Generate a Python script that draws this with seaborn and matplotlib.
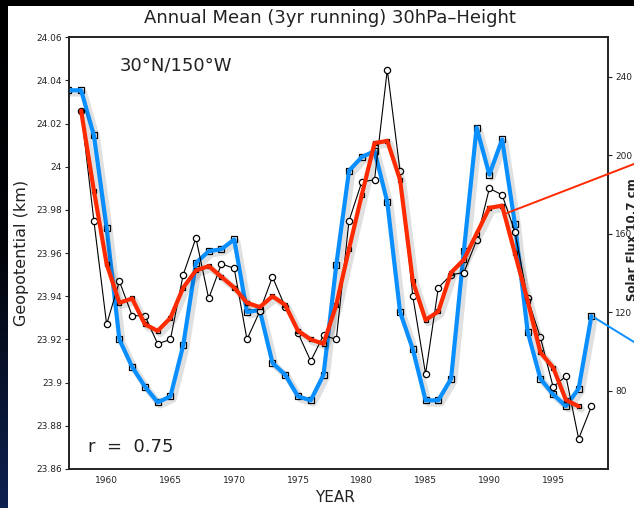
import numpy as np
import pandas as pd
import matplotlib
matplotlib.use("Agg")
import matplotlib.pyplot as plt
import matplotlib.patheffects as pe
from matplotlib.patches import Rectangle
from matplotlib.lines import Line2D
from matplotlib.colors import LinearSegmentedColormap
import seaborn as sns

# ---------------- data ----------------
geo_years = list(range(1958, 1999))
geo_annual = [24.026, 23.975, 23.927, 23.947, 23.931, 23.931, 23.918, 23.920, 23.950, 23.967,
              23.939, 23.955, 23.953, 23.920, 23.933, 23.949, 23.935, 23.923, 23.910, 23.922,
              23.920, 23.975, 23.993, 23.994, 24.045, 23.998, 23.940, 23.904, 23.944, 23.950,
              23.951, 23.966, 23.990, 23.987, 23.970, 23.939, 23.921, 23.898, 23.903, 23.874,
              23.889]

run_years = list(range(1958, 1998))
geo_running = [24.026, 23.989, 23.955, 23.937, 23.939, 23.927, 23.924, 23.930, 23.944, 23.952,
               23.954, 23.949, 23.944, 23.937, 23.935, 23.940, 23.936, 23.924, 23.920, 23.918,
               23.936, 23.962, 23.987, 24.011, 24.012, 23.994, 23.947, 23.929, 23.933, 23.951,
               23.957, 23.969, 23.981, 23.982, 23.960, 23.938, 23.914, 23.907, 23.892, 23.889]

flux_years = list(range(1957, 1999))
solar_flux = [233, 233, 210, 163, 106, 92, 82, 74, 77, 103,
              145, 151, 152, 157, 120, 121, 94, 88, 77, 75,
              88, 144, 192, 199, 202, 176, 120, 101, 75, 75,
              86, 151, 214, 190, 208, 165, 110, 86, 78, 72,
              81, 118]

geo_ticks = [23.86, 23.88, 23.90, 23.92, 23.94, 23.96, 23.98, 24.00, 24.02, 24.04, 24.06]
flux_ticks = [80, 120, 160, 200, 240]
year_ticks = [1960, 1965, 1970, 1975, 1980, 1985, 1990, 1995]

title = "Annual Mean (3yr running) 30hPa\u2013Height"
location = "30\u00b0N/150\u00b0W"
corr_text = "r  =  0.75"

df_annual = pd.DataFrame({"year": geo_years, "value": geo_annual})
df_run = pd.DataFrame({"year": run_years, "value": geo_running})
df_flux = pd.DataFrame({"year": flux_years, "value": solar_flux})

# ---------------- figure ----------------
sns.set_style("white")
plt.rcParams["font.family"] = ["DejaVu Sans"]

W, H = 634, 508
fig = plt.figure(figsize=(W / 100, H / 100), dpi=100, facecolor="black")

# left dark strip (slide background)
gax = fig.add_axes([0, 0, 7 / W, 1])
gax.imshow(np.linspace(0, 1, 200).reshape(-1, 1), aspect="auto",
           cmap=LinearSegmentedColormap.from_list("bg", ["#000000", "#020409", "#0e2150"]))
gax.axis("off")

fig.patches.append(Rectangle((7 / W, 0), 1 - 7 / W, 1 - 6 / H, transform=fig.transFigure,
                             facecolor="white", edgecolor="none", zorder=-10))

ax = fig.add_axes([69 / W, 1 - 469 / H, (608 - 69) / W, (469 - 37.3) / H])
ax.set_facecolor("white")
ax2 = ax.twinx()
ax.set_zorder(2)
ax.patch.set_visible(False)
ax2.set_zorder(1)

shadow = [pe.SimpleLineShadow(offset=(2, -2), shadow_color="black", alpha=0.12, linewidth=5),
          pe.Normal()]

# solar flux: black squares underneath + thick blue overlay
sns.lineplot(data=df_flux, x="year", y="value", ax=ax2, color="black", linewidth=0.8,
             marker="s", markersize=4.5, markerfacecolor="white", markeredgecolor="black",
             markeredgewidth=0.9, zorder=2)
sns.lineplot(data=df_flux, x="year", y="value", ax=ax2, color="#0a8fff", linewidth=3.0,
             zorder=3, path_effects=shadow)

# geopotential annual (open circles)
sns.lineplot(data=df_annual, x="year", y="value", ax=ax, color="black", linewidth=0.8,
             marker="o", markersize=4.5, markerfacecolor="white", markeredgecolor="black",
             markeredgewidth=0.9, zorder=3)
# 3yr running mean: thin black with small squares + thick red overlay
sns.lineplot(data=df_run, x="year", y="value", ax=ax, color="black", linewidth=0.8,
             marker="s", markersize=3.5, markerfacecolor="white", markeredgecolor="black",
             markeredgewidth=0.9, zorder=3)
sns.lineplot(data=df_run, x="year", y="value", ax=ax, color="#ff2a00", linewidth=3.0,
             zorder=4, path_effects=shadow)

ax.set_xlim(1957.05, 1999.3)
ax.set_ylim(23.86, 24.06)
ax2.set_ylim(40, 260)

ax.set_yticks(geo_ticks)
ax.set_yticklabels([f"{round(v, 2):g}" for v in geo_ticks])
ax.set_xticks(year_ticks)
ax.set_xticklabels([str(y) for y in year_ticks])
ax2.set_yticks(flux_ticks)
ax2.set_yticklabels([str(v) for v in flux_ticks])

ax.set_xlabel("")
ax.set_ylabel("")
ax2.set_ylabel("")

for a in (ax, ax2):
    for s in a.spines.values():
        s.set_color("#222222")
        s.set_linewidth(1.2)
ax.tick_params(axis="both", direction="out", length=3, width=0.8, labelsize=6.5,
               colors="#222222", pad=2)
ax2.tick_params(axis="y", direction="out", length=3, width=0.8, labelsize=6.5,
                colors="#222222", pad=2)

# texts
fig.text(330 / W, 1 - 18 / H, title, ha="center", va="center", fontsize=13,
         color="#222222")
fig.text(120 / W, 1 - 66 / H, location, ha="left", va="center", fontsize=13, color="#222222")
fig.text(88 / W, 1 - 447 / H, corr_text, ha="left", va="center", fontsize=13, color="#222222")
fig.text(22 / W, 1 - 253 / H, "Geopotential (km)", ha="center", va="center", rotation=90,
         fontsize=11.5, color="#222222")
fig.text(335 / W, 1 - 497 / H, "YEAR", ha="center", va="center", fontsize=11,
         color="#222222")
fig.text(633 / W, 1 - 240 / H, "Solar Flux 10.7 cm", ha="center", va="center", rotation=90,
         fontsize=8.5, color="#222222", fontweight="bold")

# callout lines leading off the slide
fig.add_artist(Line2D([507 / W, 1.0], [1 - 213 / H, 1 - 164 / H], color="#ff2a00",
                      linewidth=1.4, transform=fig.transFigure, zorder=20))
fig.add_artist(Line2D([595 / W, 1.0], [1 - 318 / H, 1 - 342 / H], color="#0a8fff",
                      linewidth=1.4, transform=fig.transFigure, zorder=20))

fig.savefig("out.png", dpi=100, facecolor=fig.get_facecolor())
